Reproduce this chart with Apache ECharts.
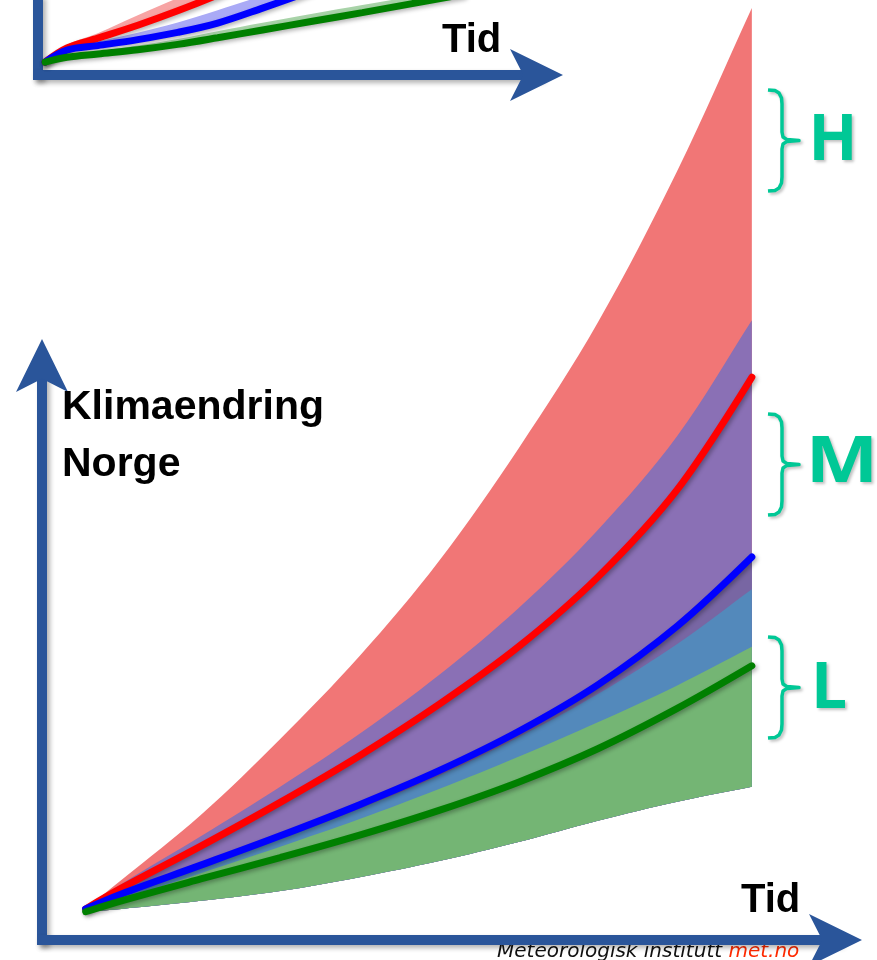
<!DOCTYPE html>
<html><head><meta charset="utf-8">
<script src="https://cdn.jsdelivr.net/npm/echarts@6/dist/echarts.min.js"></script>
<style>html,body{margin:0;padding:0;background:#fff}#c{width:877px;height:960px}</style>
</head><body><div id="c"></div>
<script>
// ---- main chart (schematic units) ----
const xMain       = [5.5, 10, 20, 30, 40, 50, 60, 70, 80, 89.4];
const redUpper    = [5.4, 10.4, 21.7, 34.9, 49.3, 65.8, 85.3, 107.2, 133.5, 161.8];
const purpleUpper = [5.4, 9.7, 18.0, 26.6, 35.8, 46.0, 57.6, 71.2, 87.5, 107.6];
const redLine     = [5.4, 9.0, 16.3, 23.9, 32.0, 40.9, 50.9, 63.0, 78.2, 97.7];
const blueLine    = [5.4, 8.0, 13.0, 18.1, 23.5, 29.4, 36.2, 44.3, 54.5, 66.5];
const purpleLower = [5.4, 7.65, 12.5, 17.6, 22.8, 28.5, 35.2, 42.7, 51.4, 60.9];
const greenUpper  = [5.2, 7.1, 11.6, 16.2, 21.0, 26.2, 31.8, 37.8, 44.2, 50.9];
const greenLine   = [4.9, 6.8, 10.6, 14.3, 18.2, 22.5, 27.4, 33.2, 40.2, 47.6];
const greenLower  = [4.9, 5.4, 6.8, 8.5, 10.9, 13.7, 17.0, 20.7, 24.0, 26.6];

// ---- small (cropped) chart at the top ----
const xMini          = [1.4, 5.8, 12, 20, 28, 36, 45, 55, 65, 75, 85];
const miniRedUpper   = [4.3, 10, 13.9, 19.9, 25.7, 32.0, 39.5, 48.5, 58.5, 69.5, 81.5];
const miniRedLine    = [4.3, 9.0, 12.3, 16.6, 21.4, 26.7, 33.3, 41, 49.7, 59, 69];
const miniBlueUpper  = [4.3, 9, 11.2, 14.1, 17.5, 21.6, 26.5, 32.5, 39, 46, 53.5];
const miniBlueLine   = [4.3, 8.3, 9.8, 11.8, 14.2, 17.3, 22.3, 28.2, 34.5, 41.3, 48.5];
const miniGreenUpper = [4.3, 6.4, 7.9, 9.8, 12.0, 14.6, 17.4, 20.4, 23.3, 26.2, 29.1];
const miniGreenLine  = [4.3, 5.9, 7.0, 8.4, 10.2, 12.4, 15.0, 17.9, 20.8, 23.8, 26.8];

const yTitle = ['Klimaendring', 'Norge'];
const xTitle = 'Tid';
const rangeLabels = ['H', 'M', 'L'];
const footerText = ['Meteorologisk institutt ', 'met.no'];

const AXIS = '#2A559A';
const TEAL = '#00C896';
const SM = 0.35;

function pairs(xs, ys) { return xs.map((x, i) => [x, ys[i]]); }

// same control-point rule as ECharts' smoothed line
function smoothSeg(pts, s, first) {
  const n = pts.length, cpA = [], cpB = [];
  for (let i = 0; i < n; i++) {
    const p = pts[i], pv = pts[i - 1] || p, nx = pts[i + 1] || p;
    const vx = nx[0] - pv[0], vy = nx[1] - pv[1];
    const l0 = Math.hypot(p[0] - pv[0], p[1] - pv[1]);
    const l1 = Math.hypot(nx[0] - p[0], nx[1] - p[1]);
    const r = (l0 + l1) ? l1 / (l0 + l1) : 0.5;
    cpA.push([p[0] - vx * s * (1 - r), p[1] - vy * s * (1 - r)]);
    cpB.push([p[0] + vx * s * r, p[1] + vy * s * r]);
  }
  let d = (first ? 'M' : 'L') + pts[0][0].toFixed(2) + ',' + pts[0][1].toFixed(2);
  for (let i = 0; i < n - 1; i++) {
    const a = cpB[i], b = cpA[i + 1], q = pts[i + 1];
    d += 'C' + a[0].toFixed(2) + ',' + a[1].toFixed(2) + ' ' + b[0].toFixed(2) + ',' + b[1].toFixed(2) +
      ' ' + q[0].toFixed(2) + ',' + q[1].toFixed(2);
  }
  return d;
}
function band(xs, lower, upper, color, gi) {
  return { type: 'custom', coordinateSystem: 'cartesian2d', xAxisIndex: gi, yAxisIndex: gi,
    silent: true, animation: false, data: [[xs[0], lower[0]]],
    renderItem: function (params, api) {
      const up = xs.map((x, i) => api.coord([x, upper[i]]));
      const lo = xs.map((x, i) => api.coord([x, lower[i]])).reverse();
      return { type: 'path', shape: { pathData: smoothSeg(up, SM, true) + smoothSeg(lo, SM, false) + 'Z' },
        style: { fill: color, stroke: null } };
    } };
}
function curve(xs, ys, color, gi) {
  return { type: 'line', xAxisIndex: gi, yAxisIndex: gi, data: pairs(xs, ys), symbol: 'none',
    smooth: SM, silent: true, clip: false, animation: false,
    lineStyle: { color: color, width: 7, cap: 'round',
      shadowColor: 'rgba(0,0,0,0.3)', shadowBlur: 4, shadowOffsetX: 2, shadowOffsetY: 2 } };
}
function axisLine(arrow, off) {
  return { show: true, onZero: false, symbol: arrow ? ['none', 'arrow'] : ['none', 'none'],
    symbolSize: [39, 53], symbolOffset: [0, off || 0],
    lineStyle: { color: AXIS, width: 10, cap: 'square',
      shadowColor: 'rgba(0,0,0,0.3)', shadowBlur: 5, shadowOffsetX: 3, shadowOffsetY: 3 } };
}
function vAxis(gi, max, arrow, off) {
  return { type: 'value', gridIndex: gi, min: 0, max: max, axisLine: axisLine(arrow, off),
    axisTick: { show: false }, axisLabel: { show: false }, splitLine: { show: false } };
}

const series = [
  band(xMain, greenLower, redUpper, '#F17676', 0),
  band(xMain, greenLower, purpleUpper, '#8A70B5', 0),
  band(xMain, greenLower, blueLine, '#7866A3', 0),
  band(xMain, greenLower, purpleLower, '#5389BB', 0),
  band(xMain, greenLower, greenUpper, '#74B574', 0),
  curve(xMain, redLine, '#FF0000', 0), curve(xMain, blueLine, '#0000FF', 0),
  curve(xMain, greenLine, '#008000', 0),
  band(xMini, miniRedLine, miniRedUpper, '#F7A4A4', 1),
  band(xMini, miniBlueLine, miniBlueUpper, '#AAAAF6', 1),
  band(xMini, miniGreenLine, miniGreenUpper, '#A8D3A8', 1),
  curve(xMini, miniRedLine, '#FF0000', 1), curve(xMini, miniBlueLine, '#0000FF', 1),
  curve(xMini, miniGreenLine, '#008000', 1)
];

function bracket(y) {
  return { type: 'polyline', x: 768, y: y, z: 10,
    shape: { points: [[0,2],[7,2.6],[11,5],[13.5,10],[14,16],[14,44],[15,49],[19,51.6],[31,52.5],
                      [19,53.4],[15,56],[14,61],[14,89],[13.5,95],[11,100],[7,102.4],[0,103]] },
    style: { fill: null, stroke: TEAL, lineWidth: 3.5, lineJoin: 'round',
      shadowColor: 'rgba(0,0,0,0.25)', shadowBlur: 3, shadowOffsetX: 2, shadowOffsetY: 2 } };
}
function bigText(text, x, y, size, align, family, color) {
  return { type: 'text', x: x, y: y, z: 10,
    style: { text: text, fill: color || '#000', font: 'bold ' + size + 'px ' + (family || '"Liberation Sans"'),
      align: align || 'left', verticalAlign: 'middle' } };
}
const teal = (t, x, y) => bigText(t, x, y, 64, 'center', '"Open Sans"', TEAL);

const hl = teal(rangeLabels[0], 833, 142);
const ml = teal(rangeLabels[1], 842, 464); ml.scaleX = 1.2; ml.originX = 0; ml.originY = 0;
const ll = teal(rangeLabels[2], 829, 690);
[hl, ml, ll].forEach(t => { t.style.textShadowColor = 'rgba(0,0,0,0.25)'; t.style.textShadowBlur = 3;
  t.style.textShadowOffsetX = 2; t.style.textShadowOffsetY = 2; });

const chart = echarts.init(document.getElementById('c'), null, { renderer: 'canvas' });
chart.setOption({
  animation: false,
  backgroundColor: '#ffffff',
  grid: [
    { left: 42, right: 41, top: 364, bottom: 20 },
    { left: 38, right: 340, top: 0, bottom: 885 }
  ],
  xAxis: [vAxis(0, 100, true, 26), vAxis(1, 100, true, 26)],
  yAxis: [vAxis(0, 100, true, 25), vAxis(1, 25, false, 0)],
  series: series,
  graphic: [
    bigText(yTitle[0], 62, 408, 41),
    bigText(yTitle[1], 62, 465, 41),
    bigText(xTitle, 741, 901, 40),
    bigText(xTitle, 442, 41, 40),
    bracket(88), bracket(412), bracket(635),
    hl, ml, ll,
    { type: 'text', x: 497, y: 952, z: -1,
      style: { text: '{a|' + footerText[0] + '}{b|' + footerText[1] + '}', verticalAlign: 'middle',
        rich: { a: { fontFamily: '"DejaVu Sans"', fontStyle: 'italic', fontSize: 20, fill: '#111' },
                b: { fontFamily: '"DejaVu Sans"', fontStyle: 'italic', fontSize: 20, fill: '#FF2A00' } } } }
  ]
});
</script></body></html>
